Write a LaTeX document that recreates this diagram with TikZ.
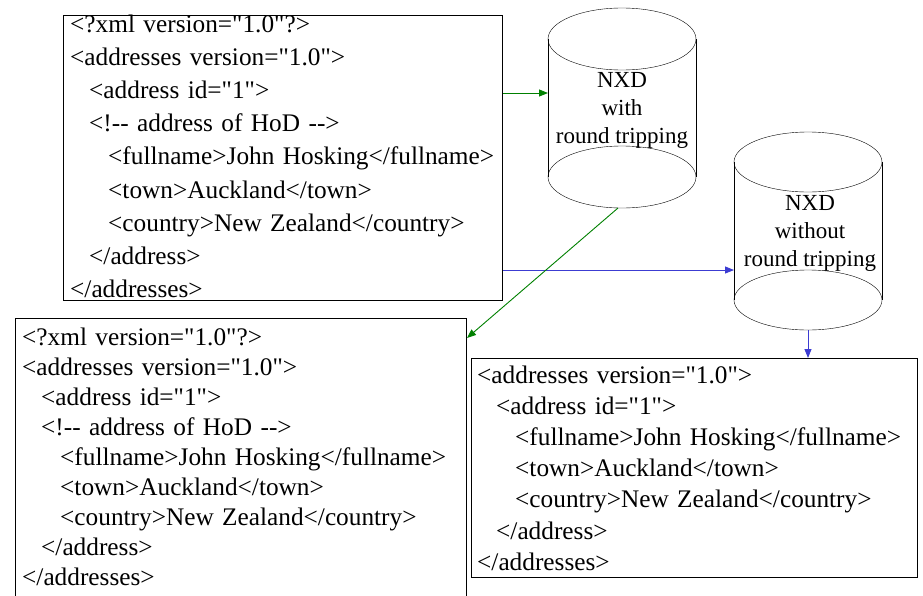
\documentclass[tikz,border=0pt]{standalone}
\usepackage{fontspec}
\setmainfont{Liberation Serif}[Ligatures=TeXOff]
\usetikzlibrary{arrows.meta}
\definecolor{linkgreen}{RGB}{0,128,0}
\definecolor{linkblue}{RGB}{60,60,210}

\begin{document}
\begin{tikzpicture}[x=1pt,y=-1pt]
    \tikzstyle{every node}+=[inner sep=0pt]
    \tikzstyle{xmlbox}=[draw=black, line width=1pt, anchor=north west]
    \tikzstyle{xmltext}=[anchor=base west, align=left, text width=440pt]
    \tikzstyle{dbtext}=[align=center, font=\fontsize{23}{28}\selectfont]
    \tikzstyle{greenline}=[linkgreen, line width=0.9pt, -{Triangle[length=9pt,width=7pt]}]
    \tikzstyle{blueline}=[linkblue, line width=0.9pt, -{Triangle[length=9pt,width=7pt]}]
    \clip (0,0) rectangle (923,595);
    % documents
    \node [xmlbox, minimum width=439pt, minimum height=285pt] (src) at (63,15) {};
    \node [xmlbox, minimum width=451pt, minimum height=300pt] (lossless) at (15,318) {};
    \node [xmlbox, minimum width=446pt, minimum height=219pt] (plain) at (471,358) {};
    \node [xmltext, font=\fontsize{25.3}{33.2}\selectfont] (srctext) at (70,32) {\noindent<?xml version="1.0"?>\\
<addresses version="1.0">\\
\hspace*{19pt}<address id="1">\\
\hspace*{19pt}<!-- address of HoD -->\\
\hspace*{38pt}<fullname>John Hosking</fullname>\\
\hspace*{38pt}<town>Auckland</town>\\
\hspace*{38pt}<country>New Zealand</country>\\
\hspace*{19pt}</address>\\
</addresses>};
    \node [xmltext, font=\fontsize{25.3}{30}\selectfont] (losslesstext) at (22,345) {\noindent<?xml version="1.0"?>\\
<addresses version="1.0">\\
\hspace*{19pt}<address id="1">\\
\hspace*{19pt}<!-- address of HoD -->\\
\hspace*{38pt}<fullname>John Hosking</fullname>\\
\hspace*{38pt}<town>Auckland</town>\\
\hspace*{38pt}<country>New Zealand</country>\\
\hspace*{19pt}</address>\\
</addresses>};
    \node [xmltext, font=\fontsize{25.3}{31.2}\selectfont] (plaintext) at (477,383) {\noindent<addresses version="1.0">\\
\hspace*{19pt}<address id="1">\\
\hspace*{38pt}<fullname>John Hosking</fullname>\\
\hspace*{38pt}<town>Auckland</town>\\
\hspace*{38pt}<country>New Zealand</country>\\
\hspace*{19pt}</address>\\
</addresses>};
    % databases
    \draw [black] (622,39) ellipse [x radius=74, y radius=31];
    \draw [black] (622,177) ellipse [x radius=74, y radius=31];
    \draw [black] (548,39) -- (548,177);
    \draw [black] (696,39) -- (696,177);
    \node [dbtext] (rtdb) at (622,110) {NXD\\with\\round tripping};
    \draw [black] (808,162) ellipse [x radius=74, y radius=30];
    \draw [black] (808,300) ellipse [x radius=74, y radius=30];
    \draw [black] (734,162) -- (734,300);
    \draw [black] (882,162) -- (882,300);
    \node [dbtext] (nrtdb) at (810,233) {NXD\\without\\round tripping};
    % connectors
    \coordinate (rt in) at (548,93);
    \coordinate (rt out) at (618,208);
    \coordinate (nrt in) at (734,270);
    \coordinate (nrt out) at (808,330);
    \draw [greenline] (src.east |- rt in) -- (rt in);
    \draw [blueline] (src.east |- nrt in) -- (nrt in);
    \draw [greenline] (rt out) -- ([yshift=-20pt]lossless.north east);
    \draw [blueline] (nrt out) -- (nrt out |- plain.north);
\end{tikzpicture}
\end{document}
